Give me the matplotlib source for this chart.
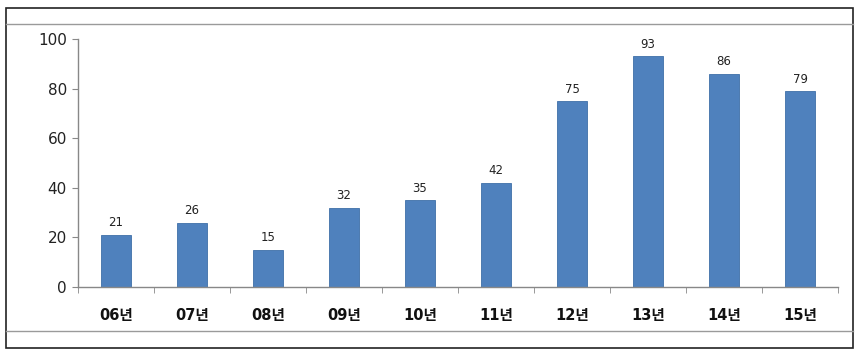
import matplotlib

matplotlib.use("Agg")
import matplotlib.pyplot as plt  # noqa: E402
from matplotlib.patches import Rectangle  # noqa: E402
from matplotlib.lines import Line2D  # noqa: E402

years = ["06년", "07년", "08년", "09년", "10년", "11년", "12년", "13년", "14년", "15년"]
counts = [21, 26, 15, 32, 35, 42, 75, 93, 86, 79]
y_ticks = [0, 20, 40, 60, 80, 100]

BAR = "#4F81BD"
AXIS = "#888888"
FONTS = ["DejaVu Sans", "Noto Sans CJK KR"]
plt.rcParams["font.family"] = FONTS

W, H = 860, 357
fig = plt.figure(figsize=(W / 100, H / 100), dpi=100)

# outer frame and the two thin rules inside it
fig.patches.append(Rectangle((6 / W, 1 - 348 / H), 847 / W, 340 / H,
                             transform=fig.transFigure, fill=False,
                             edgecolor="#222222", linewidth=1.2))
for ypx in (24, 331):
    fig.lines.append(Line2D([6 / W, 853 / W], [1 - ypx / H, 1 - ypx / H],
                            transform=fig.transFigure, color="#9a9a9a", linewidth=1.0))

ax = fig.add_axes([78 / W, 1 - 287 / H, 760 / W, 248 / H])
x = list(range(len(years)))
bars = ax.bar(x, counts, width=0.39, color=BAR, edgecolor="#3f6fa8", linewidth=0.6)
for b, v in zip(bars, counts):
    ax.text(b.get_x() + b.get_width() / 2, v + 2.2, str(v), ha="center", va="bottom",
            fontsize=8.5, color="#222222")

ax.set_xlim(-0.5, len(years) - 0.5)
ax.set_ylim(0, 100)
ax.set_yticks(y_ticks)
ax.tick_params(axis="y", length=4, color=AXIS, labelsize=11, labelcolor="#222222", pad=4)

# category labels centred under bars, tick marks between categories
ax.set_xticks(x)
ax.set_xticklabels(years, fontsize=10.5, fontweight="bold", color="#111111")
ax.tick_params(axis="x", length=0, pad=15)
ax.set_xticks([i - 0.5 for i in range(len(years) + 1)], minor=True)
ax.tick_params(axis="x", which="minor", length=4, color=AXIS)

for side in ("top", "right"):
    ax.spines[side].set_visible(False)
for side in ("left", "bottom"):
    ax.spines[side].set_color(AXIS)
    ax.spines[side].set_linewidth(1.0)

fig.savefig("out.png", dpi=100)
